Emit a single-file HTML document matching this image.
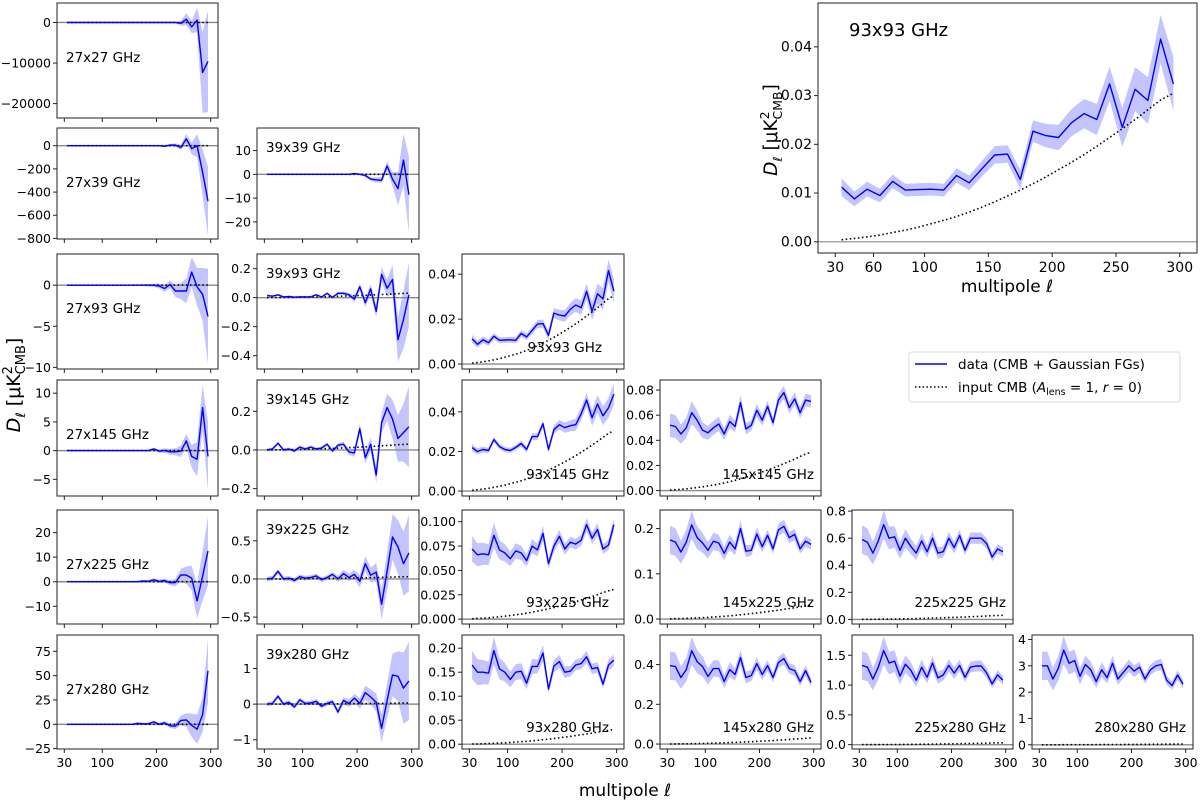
<!DOCTYPE html>
<html><head><meta charset="utf-8">
<style>
html,body{margin:0;padding:0;background:#fff;}
svg{display:block;font-family:"DejaVu Sans","Liberation Sans",sans-serif;}
</style></head>
<body>
<svg id="fig" width="1200" height="800" viewBox="0 0 1200 800" xmlns="http://www.w3.org/2000/svg">
  <text transform="translate(20,385) rotate(-90)" text-anchor="middle" font-size="19"><tspan font-style="italic">D</tspan><tspan font-style="italic" font-size="13" dy="5">ℓ</tspan><tspan dy="-5"> [μK</tspan><tspan font-size="13" dy="-8">2</tspan><tspan font-size="13" dy="13" dx="-8.3">CMB</tspan><tspan dy="-5">]</tspan></text>
  <text x="625" y="796" text-anchor="middle" font-size="17">multipole <tspan font-style="italic">ℓ</tspan></text>
  <text transform="translate(777,130) rotate(-90)" text-anchor="middle" font-size="18.5"><tspan font-style="italic">D</tspan><tspan font-style="italic" font-size="12.5" dy="5">ℓ</tspan><tspan dy="-5"> [μK</tspan><tspan font-size="12.5" dy="-8">2</tspan><tspan font-size="12.5" dy="13" dx="-8">CMB</tspan><tspan dy="-5">]</tspan></text>
  <text x="1007" y="292" text-anchor="middle" font-size="17">multipole <tspan font-style="italic">ℓ</tspan></text>
  <g>
    <rect x="909" y="352" width="271" height="50" rx="3" fill="#fff" stroke="#d8d8d8" stroke-width="1"/>
    <line x1="915" y1="364" x2="947" y2="364" stroke="#0000ff" stroke-width="1.4"/>
    <text x="958" y="369" font-size="13.5">data (CMB + Gaussian FGs)</text>
    <line x1="915" y1="387" x2="947" y2="387" stroke="#000" stroke-width="1.5" stroke-dasharray="1.5,2.3"/>
    <text x="958" y="392" font-size="13.5">input CMB (<tspan font-style="italic">A</tspan><tspan font-size="9.5" dy="3">lens</tspan><tspan dy="-3"> = 1, </tspan><tspan font-style="italic">r</tspan> = 0)</text>
  </g>
</svg>
<script>
const ell=[35,45,55,65,75,85,95,105,115,125,135,145,155,165,175,185,195,205,215,225,235,245,255,265,275,285,295];
const cmb=[0.0004,0.0007,0.0010,0.0014,0.0019,0.0024,0.0030,0.0037,0.0044,0.0052,0.0061,0.0071,0.0082,0.0094,0.0106,0.0119,0.0133,0.0148,0.0163,0.0179,0.0196,0.0214,0.0232,0.0251,0.0271,0.0291,0.0305];
const relErrHF=[0.18,0.18,0.17,0.16,0.15,0.14,0.13,0.12,0.11,0.11,0.1,0.1,0.09,0.09,0.09,0.08,0.08,0.08,0.07,0.07,0.07,0.07,0.07,0.07,0.07,0.07,0.07];

const d_27x27=[0,0,0,0,0,0,0,0,0,0,0,0,0,0,0,0,0,0,0,0,0,-200,800,-1100,600,-12300,-9600];
const e_27x27=[50,50,50,50,50,50,50,50,50,50,50,50,50,50,50,50,50,50,50,50,100,600,1500,1500,3000,10000,12500];
const d_27x39=[0,0,0,0,0,0,0,0,0,0,0,0,0,0,0,0,0,0,-5,5,5,-15,60,-25,0,-230,-480];
const e_27x39=[2,2,2,2,2,2,2,2,2,2,2,2,2,2,2,3,4,5,8,10,15,20,40,50,100,200,300];
const d_27x93=[0,0,0,0,0,0,0,0,0,0,0,0,0,0,0,0,0,-0.1,-0.4,0.1,-0.7,-0.7,-0.7,1.6,-0.2,-1.1,-3.8];
const e_27x93=[0.05,0.05,0.05,0.05,0.05,0.05,0.05,0.05,0.05,0.05,0.05,0.05,0.05,0.05,0.1,0.15,0.2,0.3,0.4,0.5,0.7,1.0,1.5,1.8,2.3,3.2,5.8];
const d_27x145=[0,0,0,0,0,0,0,0,0,0,0,0,0,0,0,0,0.3,-0.1,0,-0.2,-0.2,-0.1,1.7,-1.0,-1.5,7.5,-1.0];
const e_27x145=[0.05,0.05,0.05,0.05,0.05,0.05,0.05,0.05,0.05,0.05,0.05,0.05,0.05,0.1,0.1,0.15,0.2,0.3,0.4,0.5,0.6,1.0,1.2,2.0,3.0,4.0,6.0];
const d_27x225=[0,0,0,0,0,0,0,0,0,0,0,0,0,0,0.3,0.2,0.8,0.2,0.5,-0.4,-0.3,2.8,2.7,1.5,-7.8,2.3,12.5];
const e_27x225=[0.1,0.1,0.1,0.1,0.1,0.1,0.1,0.1,0.1,0.1,0.2,0.2,0.3,0.3,0.4,0.5,0.6,0.7,0.8,1,1.5,2.5,3.5,5,7,10,14];
const d_27x280=[0,0,0,0,0,0,0,0,0,0,0,0,0,1,0.5,0.5,2.5,0,1.5,-1.5,-2,4,4.5,-1,-5,10,55];
const e_27x280=[0.3,0.3,0.3,0.3,0.3,0.3,0.3,0.3,0.3,0.4,0.5,0.6,0.7,0.8,1,1,1.5,1.5,2,2,3,5,7,12,15,18,33];
const d_39x39=[0,0,0,0,0,0,0,0,0,0,0,0,0,0,0,0,0.3,0,-0.5,-2,-2.3,-2.5,3.5,-2,-6,6,-8.5];
const e_39x39=[0.1,0.1,0.1,0.1,0.1,0.1,0.1,0.1,0.1,0.1,0.1,0.1,0.1,0.15,0.2,0.25,0.3,0.4,0.6,0.8,1,1.2,2,3,7,11,16];
const d_39x93=[0.015,0.01,0.02,0.005,0.008,0.003,0.006,0.005,0.005,0.02,0.005,0.03,0.002,0.03,0.03,0.02,-0.01,0.075,-0.035,0.06,-0.095,0.16,0.065,0.125,-0.29,-0.15,0.02];
const e_39x93=[0.006,0.006,0.006,0.006,0.006,0.006,0.006,0.006,0.006,0.006,0.006,0.006,0.006,0.01,0.012,0.015,0.02,0.025,0.03,0.035,0.04,0.05,0.06,0.1,0.15,0.2,0.22];
const d_39x145=[0,0.005,0.035,0,0.005,-0.005,0.015,0.005,0.015,0.005,0.01,0.03,-0.005,0.025,0.03,-0.01,-0.015,0.11,-0.04,0.03,-0.13,0.14,0.22,0.16,0.06,0.09,0.12];
const e_39x145=[0.008,0.008,0.008,0.008,0.008,0.008,0.008,0.008,0.008,0.008,0.008,0.008,0.008,0.01,0.012,0.015,0.02,0.025,0.03,0.035,0.04,0.05,0.07,0.1,0.12,0.15,0.21];
const d_39x225=[0,0.01,0.1,0,0.01,-0.02,0.03,0.01,0.02,0.04,-0.01,0.02,0.06,0,0.07,0.02,0.06,-0.03,0.2,0.05,0.09,-0.33,0.1,0.55,0.42,0.2,0.34];
const e_39x225=[0.03,0.03,0.03,0.03,0.03,0.03,0.03,0.03,0.03,0.03,0.03,0.03,0.03,0.04,0.05,0.05,0.06,0.08,0.1,0.1,0.12,0.2,0.25,0.3,0.35,0.42,0.5];
const d_39x280=[0,0.02,0.22,0,0.05,-0.08,0.12,0.02,0.03,0.08,-0.06,0.02,0.07,-0.22,0.1,0.02,0.17,0.02,0.32,0.2,0.05,-0.68,0.1,0.82,0.78,0.45,0.65];
const e_39x280=[0.06,0.06,0.06,0.06,0.06,0.06,0.06,0.06,0.06,0.06,0.06,0.06,0.06,0.08,0.1,0.1,0.12,0.15,0.2,0.22,0.25,0.4,0.5,0.6,0.7,1.0,1.1];
const d_93x93=[0.0112,0.0088,0.0108,0.0095,0.0124,0.0106,0.0107,0.0108,0.0106,0.0136,0.0121,0.015,0.0178,0.018,0.0128,0.0227,0.0218,0.0214,0.0244,0.0263,0.0251,0.0324,0.0235,0.0313,0.029,0.0416,0.0324];
const e_93x93=[0.0018,0.0015,0.0015,0.0014,0.0014,0.0013,0.0013,0.0013,0.0013,0.0015,0.0015,0.0016,0.0018,0.0018,0.002,0.0022,0.0024,0.0026,0.0028,0.003,0.0032,0.0035,0.004,0.0045,0.0048,0.005,0.0055];
const d_93x145=[0.022,0.020,0.021,0.0205,0.026,0.0225,0.021,0.0205,0.022,0.024,0.021,0.0275,0.0275,0.034,0.021,0.031,0.0335,0.032,0.033,0.0335,0.039,0.046,0.037,0.044,0.038,0.042,0.049];
const d_93x225=[0.072,0.066,0.067,0.066,0.086,0.071,0.068,0.062,0.070,0.068,0.060,0.075,0.071,0.088,0.057,0.075,0.085,0.072,0.079,0.077,0.081,0.097,0.083,0.092,0.072,0.076,0.097];
const d_93x280=[0.165,0.15,0.15,0.148,0.195,0.157,0.15,0.135,0.15,0.152,0.127,0.162,0.162,0.19,0.115,0.163,0.172,0.15,0.152,0.165,0.168,0.182,0.157,0.16,0.125,0.165,0.175];
const d_145x145=[0.052,0.051,0.045,0.05,0.062,0.056,0.048,0.046,0.05,0.053,0.045,0.055,0.051,0.07,0.049,0.052,0.064,0.056,0.067,0.054,0.072,0.078,0.066,0.073,0.062,0.072,0.071];
const d_145x225=[0.175,0.17,0.148,0.17,0.208,0.18,0.168,0.152,0.172,0.168,0.145,0.17,0.155,0.2,0.15,0.152,0.188,0.16,0.185,0.155,0.197,0.205,0.18,0.187,0.155,0.172,0.165];
const d_145x280=[0.395,0.39,0.335,0.375,0.47,0.415,0.39,0.34,0.38,0.38,0.315,0.375,0.35,0.435,0.335,0.345,0.405,0.35,0.395,0.335,0.41,0.43,0.38,0.37,0.315,0.37,0.31];
const d_225x225=[0.59,0.57,0.49,0.58,0.70,0.60,0.61,0.51,0.60,0.54,0.49,0.58,0.50,0.60,0.49,0.50,0.60,0.53,0.62,0.51,0.60,0.60,0.60,0.56,0.46,0.52,0.50];
const d_225x280=[1.33,1.3,1.1,1.3,1.58,1.37,1.4,1.15,1.35,1.25,1.08,1.3,1.13,1.37,1.12,1.17,1.33,1.2,1.33,1.13,1.3,1.32,1.32,1.2,1.02,1.17,1.08];
const d_280x280=[3.0,3.0,2.5,2.9,3.6,3.1,3.2,2.6,3.05,2.85,2.4,2.85,2.55,3.1,2.5,2.75,3.0,2.8,2.95,2.5,2.85,3.0,3.05,2.45,2.25,2.65,2.3];

const xTicks=[30,100,200,300];
const xTickLabels=['30','100','200','300'];
const insetXTicks=[30,60,100,150,200,250,300];
const insetXTickLabels=['30','60','100','150','200','250','300'];

const NS='http://www.w3.org/2000/svg';
const svg=document.getElementById('fig');
const XMIN=16.5, XMAX=313.5;
const COLS=[[57,218],[257,419],[462,624],[660,821],[852,1013],[1032,1193]];
const ROWS=[[3,118],[128,239],[254,369],[380,496],[510,624],[635,749]];
function relErr(d){return d.map((v,i)=>Math.abs(v)*relErrHF[i]);}

const panels=[
 {id:'27x27',r:0,c:0,d:d_27x27,e:e_27x27,y:[-23550,4800],t:[0,-10000,-20000],tl:['0','−10000','−20000']},
 {id:'27x39',r:1,c:0,d:d_27x39,e:e_27x39,y:[-805,153],t:[0,-200,-400,-600,-800],tl:['0','−200','−400','−600','−800']},
 {id:'27x93',r:2,c:0,d:d_27x93,e:e_27x93,y:[-10.2,3.8],t:[0,-5,-10],tl:['0','−5','−10']},
 {id:'27x145',r:3,c:0,d:d_27x145,e:e_27x145,y:[-7.9,12.3],t:[-5,0,5,10],tl:['−5','0','5','10']},
 {id:'27x225',r:4,c:0,d:d_27x225,e:e_27x225,y:[-17.2,29.2],t:[-10,0,10,20],tl:['−10','0','10','20']},
 {id:'27x280',r:5,c:0,d:d_27x280,e:e_27x280,y:[-25.4,91.8],t:[-25,0,25,50,75],tl:['−25','0','25','50','75']},
 {id:'39x39',r:1,c:1,d:d_39x39,e:e_39x39,y:[-27.2,19.5],t:[-20,-10,0,10],tl:['−20','−10','0','10']},
 {id:'39x93',r:2,c:1,d:d_39x93,e:e_39x93,y:[-0.492,0.301],t:[-0.4,-0.2,0,0.2],tl:['−0.4','−0.2','0.0','0.2']},
 {id:'39x145',r:3,c:1,d:d_39x145,e:e_39x145,y:[-0.238,0.362],t:[-0.2,0,0.2],tl:['−0.2','0.0','0.2']},
 {id:'39x225',r:4,c:1,d:d_39x225,e:e_39x225,y:[-0.59,0.904],t:[-0.5,0,0.5],tl:['−0.5','0.0','0.5']},
 {id:'39x280',r:5,c:1,d:d_39x280,e:e_39x280,y:[-1.26,1.94],t:[-1,0,1],tl:['−1','0','1']},
 {id:'93x93',r:2,c:2,d:d_93x93,e:e_93x93,y:[-0.0022,0.049],t:[0,0.02,0.04],tl:['0.00','0.02','0.04'],lo:22},
 {id:'93x145',r:3,c:2,d:d_93x145,e:e_93x93,y:[-0.0025,0.0561],t:[0,0.02,0.04],tl:['0.00','0.02','0.04'],lo:15},
 {id:'93x225',r:4,c:2,d:d_93x225,e:relErr(d_93x225),y:[-0.005,0.112],t:[0,0.025,0.05,0.075,0.1],tl:['0.000','0.025','0.050','0.075','0.100'],lo:15},
 {id:'93x280',r:5,c:2,d:d_93x280,e:relErr(d_93x280),y:[-0.010,0.2275],t:[0,0.05,0.1,0.15,0.2],tl:['0.00','0.05','0.10','0.15','0.20'],lo:15},
 {id:'145x145',r:3,c:3,d:d_145x145,e:relErr(d_145x145),y:[-0.0043,0.088],t:[0,0.02,0.04,0.06,0.08],tl:['0.00','0.02','0.04','0.06','0.08']},
 {id:'145x225',r:4,c:3,d:d_145x225,e:relErr(d_145x225),y:[-0.011,0.241],t:[0,0.1,0.2],tl:['0.0','0.1','0.2']},
 {id:'145x280',r:5,c:3,d:d_145x280,e:relErr(d_145x280),y:[-0.025,0.549],t:[0,0.2,0.4],tl:['0.0','0.2','0.4']},
 {id:'225x225',r:4,c:4,d:d_225x225,e:relErr(d_225x225),y:[-0.034,0.808],t:[0,0.2,0.4,0.6,0.8],tl:['0.0','0.2','0.4','0.6','0.8']},
 {id:'225x280',r:5,c:4,d:d_225x280,e:relErr(d_225x280),y:[-0.073,1.84],t:[0,0.5,1,1.5],tl:['0.0','0.5','1.0','1.5']},
 {id:'280x280',r:5,c:5,d:d_280x280,e:relErr(d_280x280),y:[-0.16,4.17],t:[0,1,2,3,4],tl:['0','1','2','3','4']}
];

function mk(tag,attrs,parent){const el=document.createElementNS(NS,tag);for(const k in attrs)el.setAttribute(k,attrs[k]);parent.appendChild(el);return el;}

let clipN=0;
function drawPanel(p,L,R,T,B,opt){
  const g=mk('g',{},svg);
  
  
  const xs=l=>L+(l-XMIN)/(XMAX-XMIN)*(R-L);
  const ys=v=>B-(v-p.y[0])/(p.y[1]-p.y[0])*(B-T);
  const cid='clip'+(clipN++);
  const cp=mk('clipPath',{id:cid},g);
  mk('rect',{x:L,y:T,width:R-L,height:B-T},cp);
  const inner=mk('g',{'clip-path':'url(#'+cid+')'},g);
  const up=ell.map((l,i)=>xs(l).toFixed(1)+','+ys(p.d[i]+p.e[i]).toFixed(1));
  const dn=ell.map((l,i)=>xs(l).toFixed(1)+','+ys(p.d[i]-p.e[i]).toFixed(1)).reverse();
  const band=mk('polygon',{points:up.concat(dn).join(' '),fill:'#c4c4ff',stroke:'none'},inner);
  
  
  const zl=mk('line',{x1:L,x2:R,y1:ys(0),y2:ys(0),stroke:'#8a8a8a','stroke-width':opt.big?1.2:1.4},inner);
  
  
  const cl=mk('polyline',{points:ell.map((l,i)=>xs(l).toFixed(1)+','+ys(cmb[i]).toFixed(1)).join(' '),fill:'none',stroke:'#000','stroke-width':1.6,'stroke-dasharray':'1.5,2.6'},inner);
  
  
  const dl=mk('polyline',{points:ell.map((l,i)=>xs(l).toFixed(1)+','+ys(p.d[i]).toFixed(1)).join(' '),fill:'none',stroke:'#0000ff','stroke-width':1.4,'stroke-linejoin':'round'},inner);
  
  
  const fr=mk('rect',{x:L,y:T,width:R-L,height:B-T,fill:'none',stroke:'#222','stroke-width':1},g);
  
  
  const fs=opt.big?14:12.5;
  const xt=opt.big?insetXTicks:xTicks, xtl=opt.big?insetXTickLabels:xTickLabels;
  xt.forEach((v,i)=>{
    mk('line',{x1:xs(v),x2:xs(v),y1:B,y2:B+4,stroke:'#222','stroke-width':1},g);
    if(opt.xlab){
      const t=mk('text',{x:xs(v),y:B+(opt.big?19:18),'text-anchor':'middle','font-size':fs},g);
      
      
      t.textContent=xtl[i];
    }
  });
  p.t.forEach((v,i)=>{
    const y=ys(v);
    mk('line',{x1:L-4,x2:L,y1:y,y2:y,stroke:'#222','stroke-width':1},g);
    const t=mk('text',{x:L-6,y:y+4.5,'text-anchor':'end','font-size':fs},g);
    
    
    t.textContent=p.tl[i];
  });
  let lab;
  if(opt.big){
    lab=mk('text',{x:L+31,y:T+33,'font-size':18},g);
  }else if(p.c<=1){
    lab=mk('text',{x:L+9,y:T+(p.c==0?59:24),'font-size':13.5},g);
  }else{
    lab=mk('text',{x:R-(p.lo||7),y:B-17,'text-anchor':'end','font-size':13.5},g);
  }
  
  
  lab.textContent=p.id+' GHz';
}

panels.forEach(p=>{
  const [L,R]=COLS[p.c],[T,B]=ROWS[p.r];
  drawPanel(p,L,R,T,B,{xlab:p.r==5,big:false});
});
drawPanel({id:'93x93',r:0,c:9,d:d_93x93,e:e_93x93,y:[-0.0023,0.049],t:[0,0.01,0.02,0.03,0.04],tl:['0.00','0.01','0.02','0.03','0.04']},818,1197,3,253,{xlab:true,big:true});
</script>
</body></html>
